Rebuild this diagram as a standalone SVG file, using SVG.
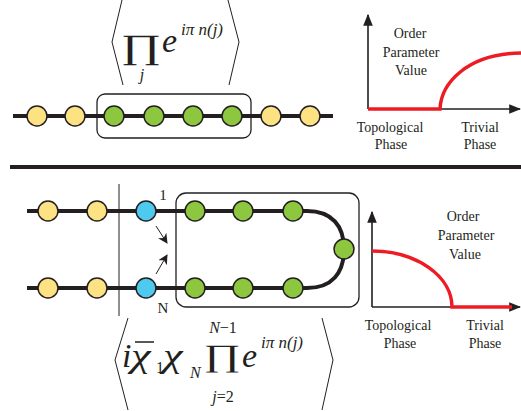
<svg xmlns="http://www.w3.org/2000/svg" width="521" height="411" viewBox="0 0 521 411">
<style>
.chain{fill:none;stroke:#231f20;stroke-width:4}
.y{fill:#fde283;stroke:#231f20;stroke-width:1.5}
.g{fill:#8dc63f;stroke:#231f20;stroke-width:1.5}
.b{fill:#4ec9f0;stroke:#231f20;stroke-width:1.5}
.box{fill:none;stroke:#231f20;stroke-width:1.3}
.thin{fill:none;stroke:#231f20;stroke-width:1}
.axis{fill:none;stroke:#231f20;stroke-width:1.6}
.red{fill:none;stroke:#ed1c24;stroke-width:3.5}
.lbl{font-family:"Liberation Serif",serif;font-size:14px;fill:#231f20;text-anchor:middle}
.m{font-family:"Liberation Serif",serif;font-style:italic;fill:#231f20}
.up{font-family:"Liberation Serif",serif;fill:#231f20}
</style>
<defs>
<marker id="ah" viewBox="0 0 10 10" refX="9" refY="5" markerWidth="10" markerHeight="10" markerUnits="userSpaceOnUse" orient="auto">
<path d="M0,0 L10,5 L0,10 L3,5 z" fill="#231f20"/>
</marker>
<marker id="ax" viewBox="0 0 10 10" refX="9" refY="5" markerWidth="12" markerHeight="12" markerUnits="userSpaceOnUse" orient="auto">
<path d="M0,1 L10,5 L0,9 z" fill="#231f20"/>
</marker>
</defs>

<g id="connectors">
<line class="chain" x1="13" y1="116" x2="333" y2="116"/>
<path class="chain" d="M27,211 H307 C332,211 344,226 344,249 C344,273 332,288 307,288 H27"/>
<line x1="10" y1="167" x2="521" y2="167" stroke="#231f20" stroke-width="4"/>
<line class="thin" x1="119" y1="184" x2="119" y2="316" stroke-width="1.6"/>
<line class="thin" x1="156" y1="226" x2="167" y2="243" stroke-width="1.6" marker-end="url(#ah)"/>
<line class="thin" x1="156" y1="274" x2="167" y2="255" stroke-width="1.6" marker-end="url(#ah)"/>
</g>

<g id="top-box"><rect class="box" x="97" y="94" width="154" height="44" rx="8"/></g>
<g id="t1"><circle class="y" cx="37" cy="116" r="10"/></g>
<g id="t2"><circle class="y" cx="75" cy="116" r="10"/></g>
<g id="t3"><circle class="g" cx="114" cy="116" r="10"/></g>
<g id="t4"><circle class="g" cx="154" cy="116" r="10"/></g>
<g id="t5"><circle class="g" cx="193" cy="116" r="10"/></g>
<g id="t6"><circle class="g" cx="232" cy="116" r="10"/></g>
<g id="t7"><circle class="y" cx="271" cy="116" r="10"/></g>
<g id="t8"><circle class="y" cx="310" cy="116" r="10"/></g>

<g id="top-formula">
<polyline class="thin" points="122,0 112,42 123,85"/>
<polyline class="thin" points="228,0 239,42 229,85"/>
<text class="up" transform="translate(141,58) scale(1.45,1)" x="0" y="0" font-size="34" text-anchor="middle">∏</text>
<text class="m" x="142" y="80" font-size="16" text-anchor="middle">j</text>
<text class="m" x="162" y="52" font-size="34">e</text>
<text class="m" x="181" y="35" font-size="17">iπ n(j)</text>
</g>

<g id="top-graph">
<line class="axis" x1="368" y1="109" x2="368" y2="15" marker-end="url(#ax)"/>
<line class="axis" x1="368" y1="109" x2="520" y2="109" marker-end="url(#ax)"/>
<path class="red" d="M368,109 H440 C441,84 466,54 521,53"/>
<text class="lbl" x="410" y="38">Order</text>
<text class="lbl" x="411" y="57">Parameter</text>
<text class="lbl" x="411" y="75">Value</text>
<text class="lbl" x="390" y="132">Topological</text>
<text class="lbl" x="391" y="149">Phase</text>
<text class="lbl" x="480" y="132">Trivial</text>
<text class="lbl" x="480" y="149">Phase</text>
</g>

<g id="bottom-box"><rect class="box" x="176" y="193" width="183" height="114" rx="10"/></g>
<g id="b1"><circle class="y" cx="48" cy="211" r="10"/></g>
<g id="b2"><circle class="y" cx="97" cy="211" r="10"/></g>
<g id="b3"><circle class="b" cx="146" cy="211" r="10"/><text class="up" x="163" y="200" font-size="15" text-anchor="middle">1</text></g>
<g id="b4"><circle class="g" cx="195" cy="211" r="10"/></g>
<g id="b5"><circle class="g" cx="243" cy="211" r="10"/></g>
<g id="b6"><circle class="g" cx="293" cy="211" r="10"/></g>
<g id="b7"><circle class="g" cx="344" cy="249" r="10"/></g>
<g id="b8"><circle class="y" cx="48" cy="288" r="10"/></g>
<g id="b9"><circle class="y" cx="97" cy="288" r="10"/></g>
<g id="b10"><circle class="b" cx="146" cy="288" r="10"/><text class="up" x="163" y="313" font-size="15" text-anchor="middle">N</text></g>
<g id="b11"><circle class="g" cx="195" cy="288" r="10"/></g>
<g id="b12"><circle class="g" cx="243" cy="288" r="10"/></g>
<g id="b13"><circle class="g" cx="293" cy="288" r="10"/></g>

<g id="bottom-formula">
<polyline class="thin" points="128,318 115,360 128,410"/>
<polyline class="thin" points="322,318 333,360 322,410"/>
<text class="m" x="122" y="367" font-size="34">i</text>
<text class="m" transform="translate(131,367) scale(1.3,1)" x="0" y="0" font-size="34">χ</text>
<line x1="135" y1="342" x2="154" y2="342" stroke="#231f20" stroke-width="1.5"/>
<text class="up" x="156" y="373" font-size="16">1</text>
<text class="m" transform="translate(163,367) scale(1.3,1)" x="0" y="0" font-size="34">χ</text>
<text class="m" x="190" y="378" font-size="16">N</text>
<text class="m" x="223" y="333" font-size="16" text-anchor="middle">N<tspan font-style="normal">−1</tspan></text>
<text class="up" transform="translate(222,366) scale(1.45,1)" x="0" y="0" font-size="31" text-anchor="middle">∏</text>
<text class="m" x="223" y="402" font-size="16" text-anchor="middle">j<tspan font-style="normal">=2</tspan></text>
<text class="m" x="242" y="367" font-size="34">e</text>
<text class="m" x="261" y="348" font-size="17">iπ n(j)</text>
</g>

<g id="bottom-graph">
<line class="axis" x1="372" y1="307" x2="372" y2="212" marker-end="url(#ax)"/>
<line class="axis" x1="372" y1="307" x2="520" y2="307" marker-end="url(#ax)"/>
<path class="red" d="M372,251 A80,56 0 0 1 452,307 H512"/>
<text class="lbl" x="463" y="221">Order</text>
<text class="lbl" x="466" y="240">Parameter</text>
<text class="lbl" x="465" y="259">Value</text>
<text class="lbl" x="398" y="330">Topological</text>
<text class="lbl" x="400" y="348">Phase</text>
<text class="lbl" x="485" y="330">Trivial</text>
<text class="lbl" x="485" y="348">Phase</text>
</g>
</svg>
